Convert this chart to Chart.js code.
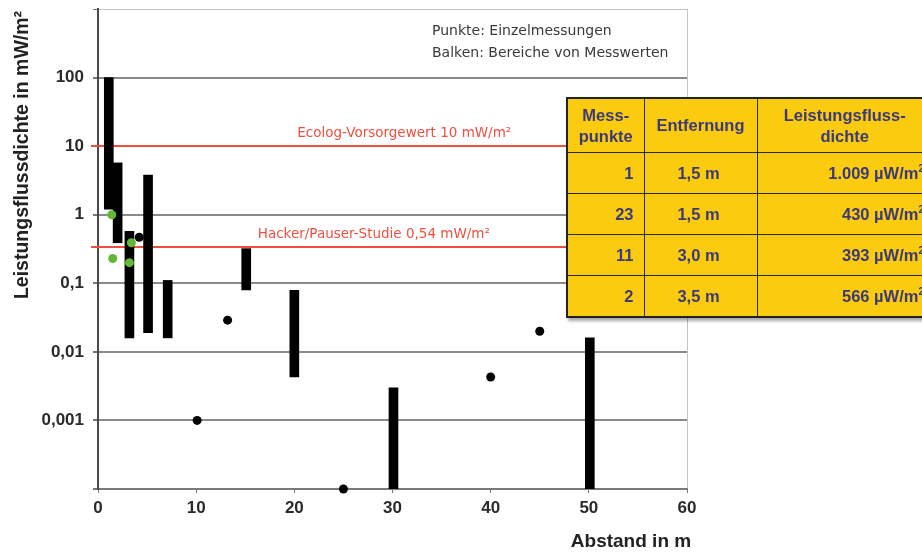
<!DOCTYPE html>
<html>
<head>
<meta charset="utf-8">
<script src="https://cdn.jsdelivr.net/npm/chart.js@4/dist/chart.umd.min.js"></script>
<style>
  html, body { margin: 0; padding: 0; background: #fff; overflow: hidden; }
  #wrap { position: relative; width: 922px; height: 554px; overflow: hidden; }
  #legendText { position: absolute; left: 432px; top: 19px; font-family: "DejaVu Sans", sans-serif; font-size: 14px; color: #3a3a3a; line-height: 22px; }
  #tbl { position: absolute; left: 566px; top: 97px; width: 366px; table-layout: fixed; border-collapse: collapse; background: #fbcb10;
         font-family: "Liberation Sans", Arial, sans-serif; font-weight: bold; font-size: 16.5px; color: #3b3a78;
         border: 2px solid #222; box-shadow: 2px 3px 3px rgba(0,0,0,0.35); }
  #tbl td, #tbl th { border: 1.5px solid #2a2a2a; padding: 0 10px 0 6px; white-space: nowrap; overflow: visible; }
  #tbl th { height: 53px; line-height: 21px; font-weight: bold; padding: 0 2px; }
  #tbl td { height: 40px; }
  #tbl td.last { padding-right: 8px; }
  #tbl sup { font-size: 10px; }
</style>
</head>
<body>
<div id="wrap">
  <canvas id="c" width="922" height="554"></canvas>
  <div id="legendText"></div>
  <table id="tbl"></table>
</div>
<script>
// ---- data ----
const barX    = [1.1, 2.0, 3.2, 5.1, 7.1, 15.1, 20.0, 30.1, 50.1];
const barLow  = [1.2, 0.39, 0.016, 0.019, 0.016, 0.08, 0.0043, 0.0001, 0.0001];
const barHigh = [100, 5.7, 0.57, 3.8, 0.11, 0.32, 0.079, 0.003, 0.016];

const greenX = [1.4, 1.5, 3.2, 3.4];
const greenY = [1.0, 0.23, 0.20, 0.39];

const blackX = [4.2, 10.1, 13.2, 25, 40, 45];
const blackY = [0.47, 0.001, 0.029, 0.0001, 0.0043, 0.02];

const yTickValues = [0.0001, 0.001, 0.01, 0.1, 1, 10, 100, 1000];
const yTickLabels = ['', '0,001', '0,01', '0,1', '1', '10', '100', ''];
const xTickValues = [0, 10, 20, 30, 40, 50, 60];

const refValues = [10, 0.34];
const refLabels = ['Ecolog-Vorsorgewert 10 mW/m²', 'Hacker/Pauser-Studie 0,54 mW/m²'];

const legendLines = ['Punkte: Einzelmessungen', 'Balken: Bereiche von Messwerten'];
const yTitle = 'Leistungsflussdichte in mW/m²';
const xTitle = 'Abstand in m';

const tableHeaders = ['Mess-<br>punkte', 'Entfernung', 'Leistungsfluss-<br>dichte'];
const tablePoints = ['1', '23', '11', '2'];
const tableDistances = ['1,5 m', '1,5 m', '3,0 m', '3,5 m'];
const tableDensities = ['1.009', '430', '393', '566'];
const densityUnit = 'µW/m<sup>2</sup>';

// ---- layout constants ----
const refLabelCenterX = [31.2, 28.1];   // in x-axis units
const colWidths = [77, 113, 176];
const RED = '#ee5040';

// legend text + table
document.getElementById('legendText').innerHTML = legendLines.join('<br>');
let html = '<colgroup>' + colWidths.map(w => `<col style="width:${w}px">`).join('') + '</colgroup>';
html += '<tr>' + tableHeaders.map(h => `<th>${h}</th>`).join('') + '</tr>';
for (let i = 0; i < tablePoints.length; i++) {
  html += `<tr><td style="text-align:right">${tablePoints[i]}</td>` +
          `<td style="text-align:center">${tableDistances[i]}</td>` +
          `<td class="last" style="text-align:right">${tableDensities[i]} ${densityUnit}</td></tr>`;
}
document.getElementById('tbl').innerHTML = html;

const overlay = {
  id: 'overlay',
  beforeDatasetsDraw(chart) {
    const { ctx, chartArea: a, scales: { x, y } } = chart;
    ctx.save();
    ctx.strokeStyle = RED;
    ctx.lineWidth = 2;
    refValues.forEach((v, i) => {
      const py = Math.round(y.getPixelForValue(v));
      ctx.beginPath();
      ctx.moveTo(a.left - 7, py);
      ctx.lineTo(a.right, py);
      ctx.stroke();
      ctx.fillStyle = RED;
      ctx.font = '13.5px "DejaVu Sans", sans-serif';
      ctx.textAlign = 'center';
      ctx.textBaseline = 'alphabetic';
      ctx.fillText(refLabels[i], x.getPixelForValue(refLabelCenterX[i]), py - 9);
    });
    ctx.restore();
  },
  afterDraw(chart) {
    const { ctx } = chart;
    ctx.save();
    ctx.fillStyle = '#222';
    ctx.font = 'bold 19px "Liberation Sans", Arial, sans-serif';
    ctx.textAlign = 'center';
    ctx.textBaseline = 'middle';
    ctx.fillText(xTitle, 631, 542);
    ctx.font = 'bold 19.5px "Liberation Sans", Arial, sans-serif';
    ctx.translate(23, 155);
    ctx.rotate(-Math.PI / 2);
    ctx.fillText(yTitle, 0, 0);
    ctx.restore();
  }
};

new Chart(document.getElementById('c'), {
  type: 'bar',
  data: {
    datasets: [
      {
        type: 'scatter',
        data: greenX.map((v, i) => ({ x: v, y: greenY[i] })),
        backgroundColor: '#62b734', borderWidth: 0, pointRadius: 4.5, order: 0
      },
      {
        type: 'scatter',
        data: blackX.map((v, i) => ({ x: v, y: blackY[i] })),
        backgroundColor: '#000', borderWidth: 0, pointRadius: 4.5, clip: false, order: 1
      },
      {
        type: 'bar',
        data: barX.map((v, i) => ({ x: v, y: [barLow[i], barHigh[i]] })),
        backgroundColor: '#000', borderWidth: 0, barThickness: 9, order: 2
      }
    ]
  },
  options: {
    responsive: false,
    animation: false,
    events: [],
    layout: { padding: { top: 9, right: 235, left: 0, bottom: 0 } },
    plugins: { legend: { display: false }, tooltip: { enabled: false } },
    scales: {
      x: {
        type: 'linear', min: 0, max: 60, offset: false,
        afterFit(s) { s.height = 65; s.paddingLeft = 0; s.paddingRight = 0; },
        afterBuildTicks(s) { s.ticks = xTickValues.map(v => ({ value: v })); },
        grid: {
          offset: false,
          color: c => c.tick && c.tick.value === 60 ? '#c4c4c4' : 'rgba(0,0,0,0)',
          lineWidth: 1, drawTicks: true, tickLength: 4, tickColor: '#777'
        },
        border: { color: '#7a7a7a', width: 2 },
        ticks: {
          font: { family: '"Liberation Sans", Arial, sans-serif', size: 17, weight: 'bold' },
          color: '#2a2a2a', padding: 5, maxRotation: 0
        }
      },
      y: {
        type: 'logarithmic', min: 0.0001, max: 1000,
        afterFit(s) { s.width = 98; s.paddingTop = 0; s.paddingBottom = 0; },
        afterBuildTicks(s) { s.ticks = yTickValues.map(v => ({ value: v })); },
        grid: {
          color: c => c.tick && c.tick.value === 1000 ? '#c4c4c4' : '#8a8a8a',
          lineWidth: c => c.tick && c.tick.value === 1000 ? 1 : 2,
          drawTicks: true, tickLength: 5, tickColor: '#777'
        },
        border: { color: '#4a4a4a', width: 2 },
        ticks: {
          font: { family: '"Liberation Sans", Arial, sans-serif', size: 17, weight: 'bold' },
          color: '#2a2a2a', padding: 9,
          callback: (v) => { const i = yTickValues.indexOf(v); return i >= 0 ? yTickLabels[i] : ''; }
        }
      }
    }
  },
  plugins: [overlay]
});
</script>
</body>
</html>
